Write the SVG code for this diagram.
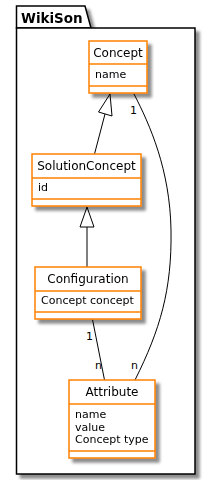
<svg xmlns="http://www.w3.org/2000/svg" width="211" height="480" viewBox="0 0 211 480">
<defs>
<filter id="sh" x="-20%" y="-20%" width="150%" height="150%">
<feGaussianBlur in="SourceAlpha" stdDeviation="1.6"/>
<feOffset dx="4" dy="4" result="b"/>
<feColorMatrix in="b" type="matrix" values="0 0 0 0 0  0 0 0 0 0  0 0 0 0 0  0 0 0 0.45 0"/>
<feMerge><feMergeNode/><feMergeNode in="SourceGraphic"/></feMerge>
</filter>
<style>
.box{fill:#fff;stroke:#FF8000;stroke-width:1.5}
.sep{stroke:#FF8000;stroke-width:1.5}
.t{font-family:"DejaVu Sans",sans-serif;font-size:12px;fill:#000;text-anchor:middle}
.a{font-family:"DejaVu Sans",sans-serif;font-size:11px;fill:#000}
.l{fill:none;stroke:#000;stroke-width:1}
.tri{fill:#fff;stroke:#000;stroke-width:1}
.pk{fill:#fff;stroke:#000;stroke-width:1.5}
</style>
</defs>
<g id="package-WikiSon" filter="url(#sh)">
<path class="pk" d="M16.5,28 V6 H85 L91,28 Z"/>
<rect class="pk" x="16.5" y="28" width="178.5" height="446"/>
<text x="21" y="23" font-family="DejaVu Sans, sans-serif" font-size="13.5" font-weight="bold">WikiSon</text>
</g>
<g id="connectors">
<path class="l" d="M94.5,154 L105,114"/>
<polygon class="tri" points="110,94 98.5,112 112,116"/>
<path class="l" d="M87,227 V267"/>
<polygon class="tri" points="87,207 80,227 94,227"/>
<path class="l" d="M92.5,319.5 L104.5,380"/>
<path class="l" d="M134,94 C150,125 170,170 171,230 C172,290 160,330 135,380"/>
<text class="a" x="130" y="114">1</text>
<text class="a" x="86" y="340">1</text>
<text class="a" x="95" y="369">n</text>
<text class="a" x="131" y="369">n</text>
</g>
<g id="Concept" filter="url(#sh)">
<rect class="box" x="89" y="41" width="58" height="52"/>
<line class="sep" x1="89" y1="64" x2="147" y2="64"/>
<line class="sep" x1="89" y1="86" x2="147" y2="86"/>
<text class="t" x="118" y="57">Concept</text>
<text class="a" x="95" y="78">name</text>
</g>
<g id="SolutionConcept" filter="url(#sh)">
<rect class="box" x="32" y="154" width="109" height="52"/>
<line class="sep" x1="32" y1="178" x2="141" y2="178"/>
<line class="sep" x1="32" y1="199" x2="141" y2="199"/>
<text class="t" x="86.5" y="170">SolutionConcept</text>
<text class="a" x="38" y="191">id</text>
</g>
<g id="Configuration" filter="url(#sh)">
<rect class="box" x="35" y="267" width="106" height="52"/>
<line class="sep" x1="35" y1="291" x2="141" y2="291"/>
<line class="sep" x1="35" y1="312" x2="141" y2="312"/>
<text class="t" x="88" y="283">Configuration</text>
<text class="a" x="41" y="304">Concept concept</text>
</g>
<g id="Attribute" filter="url(#sh)">
<rect class="box" x="69" y="380" width="86" height="78"/>
<line class="sep" x1="69" y1="404" x2="155" y2="404"/>
<line class="sep" x1="69" y1="451" x2="155" y2="451"/>
<text class="t" x="112" y="396">Attribute</text>
<text class="a" x="75" y="418">name</text>
<text class="a" x="75" y="431">value</text>
<text class="a" x="75" y="443">Concept type</text>
</g>
</svg>
